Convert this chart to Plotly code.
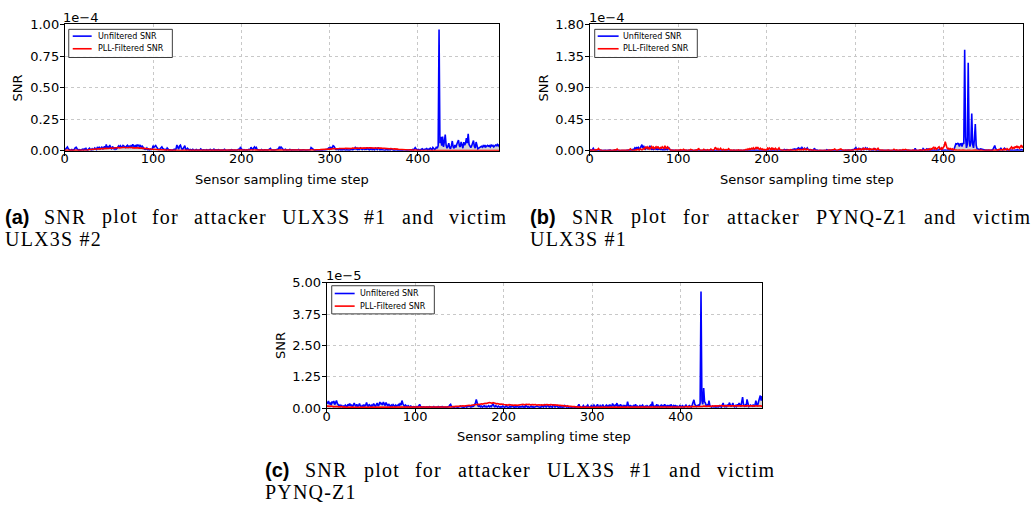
import numpy as np
import plotly.graph_objects as go

# ---------------- data (SNR values in units of 1e-7) ----------------
a_unfiltered = [
    5, 12, 20, 30, 15, 8, 4, 6, 10, 3, 7, 12, 25, 28, 14, 6, 4, 9, 5, 8,
    12, 6, 15, 9, 18, 7, 4, 14, 20, 10, 6, 16, 8, 12, 22, 15, 9, 30, 18, 26,
    14, 20, 32, 12, 28, 35, 15, 50, 24, 30, 18, 45, 22, 16, 34, 20, 14, 26, 12, 18,
    30, 38, 25, 40, 32, 28, 42, 35, 30, 26, 38, 44, 30, 36, 28, 40, 33, 50, 38, 30,
    45, 32, 48, 38, 44, 30, 40, 28, 36, 20, 15, 10, 12, 22, 8, 10, 6, 14, 9, 12,
    40, 28, 35, 42, 30, 15, 10, 8, 14, 20, 30, 18, 12, 8, 10, 6, 22, 10, 5, 8,
    6, 10, 4, 8, 12, 6, 15, 45, 20, 12, 38, 44, 25, 10, 14, 36, 40, 12, 8, 20,
    8, 5, 10, 6, 4, 12, 8, 3, 6, 10, 5, 4, 8, 6, 14, 5, 3, 7, 4, 6,
    5, 8, 3, 6, 4, 10, 5, 3, 6, 12, 4, 7, 3, 5, 8, 4, 3, 6, 4, 5,
    6, 12, 5, 3, 7, 4, 6, 3, 5, 8, 4, 3, 6, 4, 5, 3, 8, 12, 6, 30,
    15, 6, 4, 8, 5, 3, 6, 4, 10, 6, 12, 28, 15, 8, 22, 30, 18, 26, 10, 6,
    8, 4, 6, 10, 5, 3, 8, 6, 4, 7, 5, 9, 12, 18, 6, 4, 8, 5, 6, 10,
    8, 12, 15, 28, 20, 30, 22, 10, 6, 8, 12, 5, 4, 8, 6, 10, 5, 4, 7, 6,
    4, 8, 5, 3, 6, 10, 4, 6, 3, 5, 8, 4, 6, 3, 5, 7, 4, 6, 8, 25,
    20, 8, 5, 3, 6, 4, 8, 5, 3, 6, 4, 7, 5, 8, 4, 6, 10, 8, 15, 22,
    18, 30, 12, 25, 40, 35, 15, 10, 8, 12, 6, 15, 8, 5, 10, 6, 12, 8, 5, 7,
    6, 10, 8, 5, 12, 8, 6, 10, 14, 25, 12, 20, 8, 18, 10, 22, 15, 8, 12, 20,
    10, 18, 8, 25, 12, 6, 15, 10, 22, 8, 14, 6, 20, 10, 8, 25, 12, 6, 10, 8,
    5, 8, 6, 4, 10, 6, 5, 8, 4, 6, 15, 8, 5, 3, 6, 4, 8, 5, 3, 6,
    4, 6, 3, 5, 8, 4, 6, 3, 5, 7, 4, 6, 8, 5, 10, 6, 12, 25, 15, 8,
    6, 10, 5, 8, 12, 15, 8, 10, 6, 14, 18, 8, 12, 10, 20, 14, 8, 25, 12, 10,
    15, 30, 20, 40, 960, 60, 110, 40, 113, 30, 70, 128, 45, 20, 35, 60, 25, 15, 40, 77,
    30, 20, 45, 25, 50, 65, 85, 40, 30, 70, 35, 20, 68, 45, 60, 100, 60, 133, 50, 30,
    25, 40, 68, 80, 35, 20, 69, 30, 15, 20, 25, 30, 35, 28, 40, 32, 45, 30, 38, 42,
    35, 40, 30, 45, 38, 42, 30, 35, 45, 40, 50, 38, 50,
]
a_filtered = [
    3, 4, 3, 2, 3, 4, 5, 4, 3, 3, 2, 3, 4, 3, 3, 2, 3, 4, 4, 3,
    3, 4, 5, 5, 6, 7, 6, 8, 9, 8, 10, 11, 10, 12, 13, 12, 14, 15, 14, 16,
    15, 17, 16, 18, 17, 19, 18, 20, 19, 18, 20, 21, 19, 22, 20, 21, 23, 22, 21, 24,
    22, 25, 23, 26, 24, 25, 27, 24, 26, 25, 23, 26, 24, 25, 27, 24, 26, 23, 25, 24,
    23, 25, 22, 24, 21, 23, 20, 22, 19, 20, 18, 19, 16, 17, 15, 16, 14, 13, 14, 12,
    12, 11, 10, 11, 9, 10, 8, 9, 7, 8, 7, 6, 7, 5, 6, 5, 4, 5, 4, 4,
    4, 3, 4, 3, 3, 4, 3, 2, 3, 3, 2, 3, 2, 3, 3, 2, 2, 3, 2, 2,
    3, 2, 2, 3, 2, 2, 1, 2, 2, 3, 2, 2, 1, 2, 2, 2, 1, 2, 2, 1,
    2, 1, 2, 2, 1, 2, 1, 1, 2, 2, 1, 2, 1, 2, 1, 1, 2, 1, 2, 1,
    1, 2, 1, 1, 2, 1, 2, 1, 1, 2, 1, 2, 1, 1, 2, 1, 1, 2, 1, 1,
    2, 1, 1, 2, 1, 2, 1, 1, 2, 1, 2, 1, 1, 2, 2, 1, 2, 1, 2, 2,
    1, 2, 2, 1, 2, 2, 1, 2, 2, 3, 2, 2, 3, 2, 2, 3, 2, 3, 3, 2,
    3, 2, 3, 3, 2, 3, 3, 4, 3, 3, 4, 3, 4, 3, 4, 4, 3, 4, 4, 3,
    4, 4, 3, 4, 5, 4, 4, 5, 4, 5, 5, 4, 5, 6, 5, 5, 6, 5, 6, 6,
    5, 6, 7, 6, 7, 8, 7, 8, 9, 8, 9, 10, 9, 11, 10, 12, 11, 12, 13, 12,
    14, 13, 15, 16, 14, 17, 16, 15, 18, 17, 16, 18, 17, 19, 18, 17, 19, 18, 20, 19,
    18, 20, 19, 21, 20, 18, 21, 19, 22, 20, 21, 19, 22, 20, 21, 23, 20, 22, 21, 20,
    22, 21, 23, 20, 22, 24, 21, 23, 22, 20, 23, 21, 22, 24, 22, 21, 23, 20, 22, 21,
    20, 21, 19, 20, 18, 19, 17, 18, 16, 17, 15, 16, 14, 15, 13, 14, 12, 13, 12, 11,
    12, 10, 11, 9, 10, 8, 9, 7, 8, 7, 6, 7, 5, 6, 5, 4, 5, 4, 3, 4,
    3, 3, 2, 3, 2, 2, 3, 2, 2, 1, 2, 2, 1, 2, 2, 1, 2, 1, 2, 1,
    1, 2, 1, 2, 1, 1, 2, 1, 1, 2, 1, 1, 2, 1, 1, 1, 2, 1, 1, 2,
    1, 1, 2, 1, 1, 2, 1, 1, 1, 2, 1, 1, 2, 1, 1, 2, 1, 1, 2, 1,
    1, 2, 1, 1, 2, 1, 2, 2, 1, 2, 1, 2, 2, 1, 2, 2, 1, 2, 2, 1,
    2, 2, 1, 2, 2, 3, 2, 2, 3, 2, 2, 3, 2,
]
b_unfiltered = [
    20, 10, 5, 15, 35, 12, 5, 8, 3, 10, 6, 4, 8, 5, 3, 6, 4, 8, 5, 3,
    6, 4, 3, 8, 5, 3, 6, 4, 10, 5, 3, 6, 4, 3, 5, 8, 4, 3, 6, 4,
    5, 3, 6, 4, 8, 12, 6, 15, 10, 20, 12, 40, 25, 50, 30, 45, 20, 35, 60, 87,
    40, 70, 30, 20, 45, 30, 25, 40, 72, 35, 20, 30, 15, 25, 40, 20, 30, 15, 25, 20,
    15, 25, 12, 20, 10, 30, 15, 20, 12, 50, 25, 10, 6, 8, 5, 4, 6, 3, 5, 4,
    6, 3, 5, 4, 8, 3, 5, 6, 3, 4, 5, 3, 6, 4, 3, 5, 4, 6, 3, 5,
    4, 3, 6, 4, 5, 3, 4, 6, 3, 5, 4, 8, 3, 5, 4, 6, 3, 5, 4, 3,
    6, 4, 5, 3, 8, 4, 6, 3, 5, 10, 4, 3, 6, 5, 3, 4, 6, 3, 5, 4,
    3, 5, 4, 6, 3, 4, 5, 3, 6, 4, 5, 3, 4, 6, 3, 5, 4, 3, 6, 4,
    5, 3, 4, 6, 3, 5, 8, 4, 3, 5, 6, 4, 3, 5, 4, 6, 3, 4, 5, 3,
    6, 4, 5, 3, 10, 5, 4, 6, 3, 5, 4, 6, 3, 5, 8, 4, 6, 3, 15, 10,
    20, 12, 8, 15, 6, 10, 5, 8, 12, 6, 10, 15, 25, 12, 20, 30, 40, 25, 35, 20,
    45, 30, 20, 35, 15, 25, 40, 20, 10, 15, 8, 12, 6, 10, 35, 15, 8, 5, 6, 4,
    5, 3, 6, 8, 4, 10, 5, 3, 15, 6, 4, 8, 3, 5, 6, 4, 3, 5, 4, 6,
    3, 5, 4, 3, 6, 4, 5, 3, 4, 6, 3, 5, 8, 4, 3, 6, 10, 15, 8, 20,
    25, 46, 20, 12, 30, 15, 25, 10, 20, 40, 15, 30, 42, 20, 35, 15, 10, 25, 12, 8,
    15, 10, 30, 12, 8, 5, 10, 6, 4, 8, 5, 3, 6, 4, 5, 3, 6, 4, 3, 5,
    4, 3, 6, 5, 3, 4, 6, 3, 5, 4, 3, 6, 4, 5, 3, 4, 6, 3, 5, 4,
    3, 5, 4, 6, 3, 5, 4, 10, 35, 8, 4, 5, 3, 6, 4, 5, 8, 30, 12, 6,
    10, 25, 8, 30, 6, 4, 5, 3, 6, 8, 4, 5, 3, 10, 6, 8, 35, 12, 6, 5,
    8, 5, 10, 6, 4, 8, 12, 6, 5, 10, 6, 8, 20, 50, 100, 95, 105, 100, 60, 98,
    100, 60, 110, 95, 1440, 200, 40, 90, 1255, 150, 60, 120, 530, 90, 40, 160, 380, 80, 30, 25,
    20, 15, 25, 20, 15, 10, 12, 8, 5, 10, 6, 4, 8, 5, 10, 6, 20, 40, 75, 30,
    10, 6, 8, 4, 15, 35, 20, 8, 12, 35, 25, 10, 6, 8, 5, 4, 10, 6, 8, 5,
    6, 10, 5, 8, 12, 6, 4, 8, 15, 10, 6, 12, 8,
]
b_filtered = [
    5, 8, 4, 10, 6, 3, 8, 15, 10, 20, 32, 12, 5, 8, 4, 6, 3, 5, 8, 4,
    3, 6, 4, 8, 5, 3, 6, 4, 8, 12, 6, 25, 10, 4, 6, 3, 5, 8, 4, 6,
    5, 3, 8, 4, 6, 15, 25, 10, 6, 4, 8, 5, 12, 8, 20, 10, 6, 30, 15, 10,
    20, 35, 25, 50, 40, 55, 30, 45, 25, 40, 60, 35, 50, 30, 45, 55, 35, 60, 40, 30,
    45, 35, 55, 40, 30, 70, 45, 25, 55, 35, 20, 12, 8, 5, 10, 6, 4, 8, 5, 3,
    6, 10, 4, 15, 8, 5, 20, 6, 4, 10, 5, 3, 8, 6, 18, 10, 4, 6, 3, 8,
    5, 12, 8, 35, 15, 6, 4, 10, 5, 20, 8, 4, 6, 15, 8, 5, 10, 25, 12, 6,
    10, 20, 50, 25, 15, 30, 12, 20, 35, 15, 8, 20, 10, 6, 15, 8, 12, 30, 10, 5,
    8, 4, 6, 10, 5, 3, 8, 4, 12, 6, 4, 8, 5, 3, 10, 6, 15, 20, 10, 25,
    15, 30, 20, 35, 25, 40, 20, 30, 45, 25, 50, 30, 20, 35, 15, 25, 10, 20, 8, 15,
    10, 35, 20, 40, 25, 15, 45, 20, 30, 15, 35, 20, 10, 25, 40, 15, 8, 12, 6, 10,
    5, 8, 4, 10, 6, 3, 8, 15, 6, 4, 10, 5, 8, 4, 12, 6, 20, 10, 15, 8,
    12, 20, 8, 30, 15, 10, 25, 12, 6, 10, 15, 5, 8, 4, 10, 6, 3, 8, 5, 4,
    6, 3, 5, 8, 4, 6, 3, 10, 5, 4, 8, 6, 3, 5, 12, 8, 15, 25, 10, 6,
    8, 15, 10, 20, 25, 12, 6, 8, 4, 10, 5, 3, 6, 8, 4, 10, 6, 8, 12, 15,
    10, 20, 12, 25, 15, 30, 20, 10, 25, 15, 35, 20, 30, 25, 15, 20, 30, 12, 25, 15,
    20, 30, 15, 25, 10, 20, 35, 15, 8, 12, 6, 10, 5, 8, 4, 6, 10, 5, 8, 4,
    6, 3, 8, 10, 20, 8, 5, 12, 6, 4, 8, 5, 10, 6, 15, 8, 12, 20, 10, 6,
    8, 5, 10, 6, 4, 8, 12, 6, 5, 10, 6, 4, 8, 5, 12, 6, 10, 8, 5, 10,
    15, 8, 20, 10, 25, 12, 30, 20, 35, 55, 25, 40, 20, 30, 45, 55, 30, 20, 40, 25,
    50, 70, 130, 80, 40, 25, 35, 20, 30, 15, 25, 10, 20, 8, 15, 10, 6, 12, 8, 5,
    10, 6, 8, 5, 4, 6, 3, 5, 8, 4, 6, 3, 5, 4, 6, 3, 5, 8, 4, 6,
    3, 5, 4, 8, 5, 3, 6, 4, 10, 5, 3, 8, 12, 6, 4, 8, 5, 10, 6, 4,
    8, 12, 6, 20, 10, 6, 15, 8, 25, 12, 20, 10, 30, 15, 8, 25, 40, 55, 30, 45,
    35, 60, 40, 70, 45, 55, 35, 65, 80, 50, 60, 40, 55,
]
c_unfiltered = [
    25, 18, 28, 15, 22, 12, 26, 20, 28, 14, 22, 30, 18, 10, 8, 12, 6, 10, 5, 8,
    6, 12, 8, 5, 15, 10, 18, 8, 14, 6, 10, 20, 12, 8, 15, 6, 10, 18, 8, 5,
    10, 6, 14, 8, 12, 22, 10, 6, 15, 8, 5, 12, 8, 18, 10, 6, 14, 20, 8, 12,
    24, 15, 20, 12, 24, 18, 10, 22, 14, 8, 16, 10, 6, 12, 8, 14, 10, 6, 12, 8,
    10, 14, 8, 20, 12, 30, 18, 10, 6, 12, 8, 5, 10, 6, 4, 8, 5, 3, 6, 4,
    5, 3, 6, 4, 8, 15, 6, 4, 3, 5, 4, 6, 3, 5, 4, 3, 6, 4, 5, 3,
    4, 6, 3, 5, 4, 3, 6, 4, 5, 3, 4, 6, 3, 5, 4, 3, 5, 4, 6, 12,
    15, 6, 4, 5, 3, 6, 4, 5, 3, 4, 6, 8, 5, 4, 6, 3, 5, 8, 4, 6,
    5, 8, 6, 4, 10, 6, 8, 12, 20, 34, 15, 8, 6, 10, 5, 8, 4, 6, 10, 5,
    8, 4, 6, 10, 5, 8, 6, 12, 18, 8, 5, 10, 6, 4, 8, 5, 3, 6, 4, 8,
    5, 3, 6, 10, 4, 5, 3, 8, 4, 6, 12, 5, 3, 6, 4, 8, 5, 3, 6, 4,
    5, 8, 4, 6, 3, 10, 5, 4, 6, 3, 5, 8, 4, 6, 3, 5, 4, 6, 8, 5,
    4, 6, 3, 10, 5, 4, 12, 6, 4, 8, 15, 5, 4, 8, 6, 3, 15, 6, 4, 8,
    10, 5, 3, 6, 4, 8, 3, 5, 4, 10, 6, 4, 8, 3, 5, 4, 6, 3, 5, 4,
    6, 3, 5, 4, 8, 15, 6, 4, 3, 5, 10, 4, 6, 3, 8, 12, 5, 6, 4, 10,
    6, 4, 12, 5, 3, 8, 15, 6, 4, 10, 5, 8, 14, 6, 4, 8, 12, 5, 10, 6,
    14, 8, 5, 18, 10, 6, 12, 8, 20, 5, 10, 6, 15, 8, 4, 10, 6, 12, 5, 8,
    26, 10, 6, 12, 5, 8, 4, 10, 6, 15, 5, 8, 4, 6, 10, 5, 8, 12, 6, 4,
    8, 5, 10, 6, 4, 8, 12, 6, 26, 10, 5, 8, 4, 15, 6, 10, 5, 8, 12, 6,
    10, 5, 15, 8, 4, 12, 6, 10, 5, 14, 8, 4, 10, 6, 12, 5, 8, 4, 6, 10,
    8, 5, 10, 6, 4, 8, 12, 6, 5, 8, 10, 6, 4, 12, 20, 33, 15, 8, 6, 10,
    12, 8, 20, 465, 30, 15, 80, 25, 20, 8, 12, 6, 30, 10, 6, 4, 8, 5, 6, 4,
    6, 4, 8, 5, 10, 6, 4, 12, 20, 8, 5, 10, 6, 14, 8, 22, 10, 6, 12, 20,
    8, 5, 10, 6, 15, 8, 20, 12, 6, 25, 44, 15, 8, 12, 6, 35, 10, 6, 8, 12,
    10, 8, 14, 6, 12, 30, 15, 10, 25, 35, 50, 30, 48,
]
c_filtered = [
    8, 7, 8, 6, 7, 8, 6, 7, 5, 6, 7, 5, 6, 5, 4, 5, 6, 4, 5, 4,
    5, 4, 3, 4, 5, 4, 3, 4, 3, 4, 3, 3, 4, 3, 4, 3, 3, 2, 3, 3,
    3, 2, 3, 3, 2, 3, 2, 3, 2, 2, 3, 2, 3, 2, 2, 3, 2, 2, 3, 2,
    2, 3, 2, 2, 3, 2, 2, 2, 3, 2, 2, 2, 3, 2, 2, 2, 2, 3, 2, 2,
    2, 2, 3, 2, 2, 2, 2, 3, 2, 2, 2, 2, 2, 3, 2, 2, 2, 2, 2, 2,
    2, 2, 2, 2, 2, 2, 2, 2, 2, 2, 2, 2, 2, 2, 2, 2, 2, 2, 3, 2,
    2, 3, 2, 3, 3, 2, 3, 3, 3, 4, 3, 3, 4, 3, 4, 4, 4, 5, 4, 5,
    5, 5, 6, 5, 6, 6, 7, 6, 7, 7, 8, 7, 8, 8, 9, 8, 9, 10, 9, 10,
    10, 11, 10, 12, 11, 12, 13, 12, 14, 13, 14, 15, 14, 16, 15, 17, 16, 18, 17, 19,
    18, 20, 19, 21, 22, 20, 21, 19, 22, 20, 18, 19, 17, 18, 16, 17, 15, 16, 14, 15,
    14, 13, 15, 14, 13, 12, 14, 13, 12, 13, 12, 11, 12, 13, 12, 11, 12, 13, 12, 14,
    13, 14, 15, 13, 14, 16, 15, 14, 16, 15, 13, 14, 15, 14, 13, 15, 14, 12, 13, 14,
    13, 12, 14, 13, 12, 13, 14, 12, 13, 14, 13, 12, 13, 14, 12, 13, 12, 14, 13, 12,
    13, 12, 11, 12, 11, 10, 11, 10, 9, 10, 9, 8, 9, 8, 7, 8, 7, 6, 7, 6,
    6, 5, 6, 5, 4, 5, 4, 4, 3, 4, 3, 3, 4, 3, 3, 2, 3, 2, 3, 2,
    2, 2, 3, 2, 2, 2, 3, 2, 2, 2, 2, 3, 2, 2, 2, 2, 2, 3, 2, 2,
    2, 2, 2, 2, 3, 2, 2, 2, 2, 2, 3, 2, 2, 2, 2, 2, 2, 2, 3, 2,
    2, 2, 2, 3, 2, 2, 2, 2, 2, 2, 2, 3, 2, 2, 2, 2, 2, 2, 2, 3,
    2, 2, 2, 2, 2, 3, 2, 2, 2, 2, 3, 2, 2, 2, 3, 2, 2, 3, 2, 3,
    3, 2, 3, 3, 2, 3, 3, 3, 4, 3, 3, 4, 3, 4, 4, 3, 4, 4, 5, 4,
    5, 4, 5, 5, 4, 5, 6, 5, 5, 6, 5, 6, 6, 5, 6, 7, 6, 6, 7, 6,
    7, 6, 7, 7, 6, 7, 8, 7, 7, 8, 7, 8, 7, 8, 8, 7, 8, 9, 8, 8,
    9, 8, 9, 9, 8, 9, 10, 9, 9, 10, 9, 10, 9, 10, 10, 9, 10, 11, 10, 10,
    11, 10, 10, 11, 10, 11, 10, 12, 11, 10, 11, 10, 11, 10, 9, 10, 11, 10, 9, 10,
    9, 10, 9, 8, 9, 10, 9, 8, 9, 8, 9, 8, 8,
]

x_ticks = [0, 100, 200, 300, 400]
a_yticks = [0.0, 0.25, 0.5, 0.75, 1.0]
b_yticks = [0.0, 0.45, 0.9, 1.35, 1.8]
c_yticks = [0.0, 1.25, 2.5, 3.75, 5.0]
series_names = ["Unfiltered SNR", "PLL-Filtered SNR"]
x_title = "Sensor sampling time step"
y_title = "SNR"
captions = [
    ("(a)", "SNR plot for attacker ULX3S #1 and victim", "ULX3S #2"),
    ("(b)", "SNR plot for attacker PYNQ-Z1 and victim", "ULX3S #1"),
    ("(c)", "SNR plot for attacker ULX3S #1 and victim", "PYNQ-Z1"),
]

# ---------------- layout helpers ----------------
W, H = 1035, 520
def fx(p):
    return p / W
def fy(p):
    return 1 - p / H

FONT = "DejaVu Sans"
SERIF = "Liberation Serif"
CAP_SIZE = 20
LS = 1.2  # letter spacing (px) to mimic the wider Computer Modern glyphs

# glyph advance widths (per 1000 em) used only to justify caption lines
SERIF_W = {" ": 250, "#": 500, "1": 500, "2": 500, "3": 500, "-": 333,
           "L": 611, "N": 722, "P": 556, "Q": 722, "R": 667, "S": 556, "U": 722,
           "X": 722, "Y": 722, "Z": 611,
           "a": 444, "c": 444, "d": 500, "e": 444, "f": 333, "i": 278, "k": 500,
           "l": 278, "m": 778, "n": 500, "o": 500, "p": 500, "r": 333, "t": 278, "v": 500}
BOLD_W = {"(": 333, ")": 333, "a": 556, "b": 611, "c": 556}

def word_w(word, table, size, ls):
    return sum(table.get(ch, 500) for ch in word) * size / 1000.0 + ls * len(word)

def spaced(txt):
    return f"<span style='letter-spacing:{LS}px'>{txt}</span>"

panels = [
    dict(blue=a_unfiltered, red=a_filtered, div=1000.0, yticks=a_yticks, off="1e\u22124",
         box=(61, 18, 497, 148), leg=(65, 23, 169, 52), lx=(69, 88), tx=92, ly=(30, 43),
         offpos=(57, 10.5), ylab=(14, 83), xlab=(279, 177.5),
         cap=(0, 216, 238.5, 504), xmax=492),
    dict(blue=b_unfiltered, red=b_filtered, div=1000.0, yticks=b_yticks, off="1e\u22124",
         box=(588, 18, 1023, 148), leg=(593, 23, 696, 52), lx=(596, 617), tx=619, ly=(30, 43),
         offpos=(585, 10.5), ylab=(542, 83), xlab=(806, 177.5),
         cap=(527, 216, 238.5, 1030), xmax=490),
    dict(blue=c_unfiltered, red=c_filtered, div=100.0, yticks=c_yticks, off="1e\u22125",
         box=(324, 284, 761, 413), leg=(329, 287, 432, 316), lx=(332, 352), tx=355, ly=(295, 308),
         offpos=(321, 276), ylab=(278, 348), xlab=(542, 442.5),
         cap=(261, 477, 499.5, 773), xmax=492),
]

fig = go.Figure()
shapes = []
annotations = []
layout_axes = {}

for i, p in enumerate(panels):
    n = i + 1
    xa = "x" if n == 1 else f"x{n}"
    ya = "y" if n == 1 else f"y{n}"
    blue = [v / p["div"] for v in p["blue"]]
    red = [v / p["div"] for v in p["red"]]
    xb = np.arange(len(blue))
    xr = np.arange(len(red))
    fig.add_trace(go.Scatter(x=xb, y=blue, mode="lines", name=series_names[0],
                             line=dict(color="#0000ff", width=1.6),
                             fill="tozeroy", fillcolor="rgba(128,128,128,0.35)",
                             showlegend=False, xaxis=xa, yaxis=ya))
    fig.add_trace(go.Scatter(x=xr, y=red, mode="lines", name=series_names[1],
                             line=dict(color="#ff0000", width=1.6),
                             showlegend=False, xaxis=xa, yaxis=ya))

    x0, y0, x1, y1 = p["box"]
    axis_common = dict(showline=True, linecolor="black", linewidth=1, mirror=True,
                       ticks="outside", ticklen=4, tickwidth=1, tickcolor="black",
                       showgrid=True, gridcolor="#c8c8c8", gridwidth=1, griddash="dot",
                       zeroline=False, tickfont=dict(family=FONT, size=13, color="black"))
    kx = "xaxis" if n == 1 else f"xaxis{n}"
    ky = "yaxis" if n == 1 else f"yaxis{n}"
    layout_axes[kx] = dict(domain=[fx(x0), fx(x1)], anchor=ya, range=[0, p["xmax"]],
                           tickvals=x_ticks, ticktext=[str(t) for t in x_ticks],
                           ticklabelstandoff=-8, **axis_common)
    layout_axes[ky] = dict(domain=[fy(y1), fy(y0)], anchor=xa, range=[0, p["yticks"][-1]],
                           tickvals=p["yticks"], ticktext=[f"{t:.2f}" for t in p["yticks"]],
                           ticklabelstandoff=-2, **axis_common)

    # legend box (drawn)
    lx0, ly0, lx1, ly1 = p["leg"]
    shapes.append(dict(type="rect", xref="paper", yref="paper",
                       x0=fx(lx0), x1=fx(lx1), y0=fy(ly1), y1=fy(ly0),
                       line=dict(color="rgba(40,40,40,0.9)", width=1),
                       fillcolor="rgba(255,255,255,0.85)", layer="above"))
    for col, yy, name in zip(["#0000ff", "#ff0000"], p["ly"], series_names):
        shapes.append(dict(type="line", xref="paper", yref="paper",
                           x0=fx(p["lx"][0]), x1=fx(p["lx"][1]), y0=fy(yy), y1=fy(yy),
                           line=dict(color=col, width=1.6), layer="above"))
        annotations.append(dict(xref="paper", yref="paper", x=fx(p["tx"]), y=fy(yy),
                                text=name, showarrow=False, xanchor="left", yanchor="middle",
                                font=dict(family=FONT, size=8, color="black")))

    # offset text, axis titles
    annotations.append(dict(xref="paper", yref="paper", x=fx(p["offpos"][0]), y=fy(p["offpos"][1]),
                            text=p["off"], showarrow=False, xanchor="left", yanchor="middle",
                            font=dict(family=FONT, size=13, color="black")))
    annotations.append(dict(xref="paper", yref="paper", x=fx(p["ylab"][0]), y=fy(p["ylab"][1]),
                            text=y_title, showarrow=False, textangle=-90, xanchor="center",
                            yanchor="middle", font=dict(family=FONT, size=13, color="black")))
    annotations.append(dict(xref="paper", yref="paper", x=fx(p["xlab"][0]), y=fy(p["xlab"][1]),
                            text=x_title, showarrow=False, xanchor="center", yanchor="middle",
                            font=dict(family=FONT, size=13, color="black")))

    # caption: first line justified word by word, second line left aligned
    lab, line1, line2 = captions[i]
    cx, cy1, cy2, cxe = p["cap"]
    words = [lab] + line1.split(" ")
    widths = [word_w(lab, BOLD_W, CAP_SIZE, 0)] + \
             [word_w(w, SERIF_W, CAP_SIZE, LS) for w in words[1:]]
    gap = (cxe - cx - sum(widths)) / (len(words) - 1)
    xpos = cx
    for j, (wd, ww) in enumerate(zip(words, widths)):
        if j == 0:
            txt = f"<b>{wd}</b>"
            fnt = dict(family="Liberation Sans", size=CAP_SIZE, color="black")
        else:
            txt = spaced(wd)
            fnt = dict(family=SERIF, size=CAP_SIZE, color="black")
        annotations.append(dict(xref="paper", yref="paper", x=fx(xpos), y=fy(cy1),
                                text=txt, showarrow=False, xanchor="left", yanchor="middle",
                                borderpad=0, font=fnt))
        xpos += ww + gap
    annotations.append(dict(xref="paper", yref="paper", x=fx(cx), y=fy(cy2),
                            text=spaced(line2), showarrow=False, xanchor="left", yanchor="middle",
                            borderpad=0, font=dict(family=SERIF, size=CAP_SIZE, color="black")))

fig.update_layout(width=W, height=H, margin=dict(l=0, r=0, t=0, b=0),
                  paper_bgcolor="white", plot_bgcolor="white",
                  shapes=shapes, annotations=annotations, showlegend=False,
                  **layout_axes)

fig.write_html("out.html")
